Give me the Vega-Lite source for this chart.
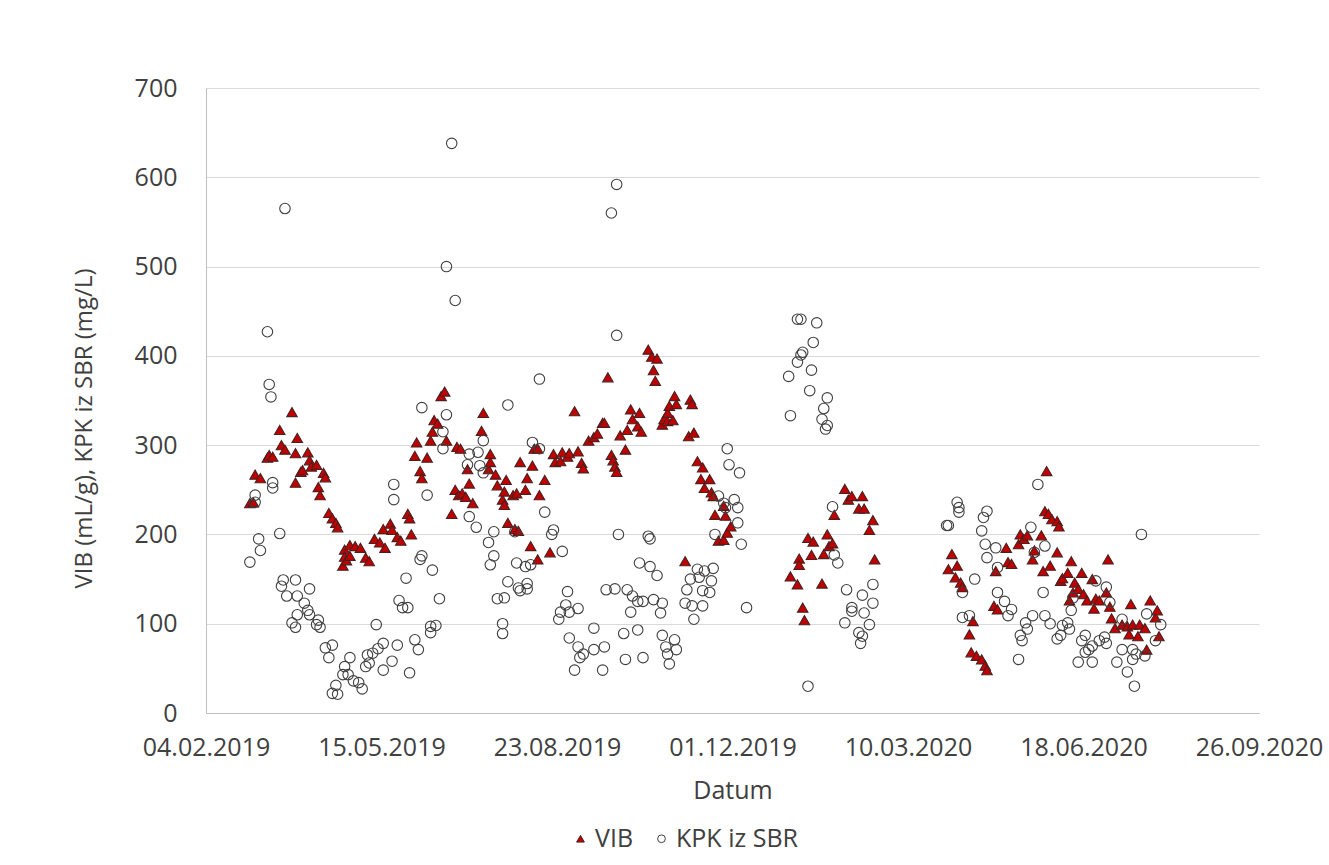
{
  "$schema": "https://vega.github.io/schema/vega-lite/v6.json",
  "width": 1053,
  "height": 625,
  "autosize": {"type": "none"},
  "padding": {"left": 206, "top": 88, "right": 70, "bottom": 152},
  "background": "white",
  "config": {
    "view": {"stroke": null},
    "font": "Open Sans",
    "legend": {
      "orient": "none",
      "legendX": 362,
      "legendY": 738,
      "direction": "horizontal",
      "labelFont": "Open Sans",
      "labelFontSize": 25,
      "labelColor": "#404040",
      "symbolSize": 60,
      "symbolStrokeWidth": 1,
      "columnPadding": 15,
      "labelOffset": 2
    }
  },
  "data": {
    "values": [
      {"date": "2019-03-01", "series": "VIB", "value": 235},
      {"date": "2019-03-03", "series": "VIB", "value": 236},
      {"date": "2019-03-04", "series": "VIB", "value": 267},
      {"date": "2019-03-07", "series": "VIB", "value": 263},
      {"date": "2019-03-11", "series": "VIB", "value": 286},
      {"date": "2019-03-12", "series": "VIB", "value": 289},
      {"date": "2019-03-14", "series": "VIB", "value": 287},
      {"date": "2019-03-18", "series": "VIB", "value": 317},
      {"date": "2019-03-19", "series": "VIB", "value": 300},
      {"date": "2019-03-21", "series": "VIB", "value": 295},
      {"date": "2019-03-25", "series": "VIB", "value": 337},
      {"date": "2019-03-27", "series": "VIB", "value": 291},
      {"date": "2019-03-27", "series": "VIB", "value": 258},
      {"date": "2019-03-28", "series": "VIB", "value": 308},
      {"date": "2019-03-30", "series": "VIB", "value": 270},
      {"date": "2019-03-31", "series": "VIB", "value": 272},
      {"date": "2019-04-03", "series": "VIB", "value": 292},
      {"date": "2019-04-04", "series": "VIB", "value": 283},
      {"date": "2019-04-05", "series": "VIB", "value": 276},
      {"date": "2019-04-08", "series": "VIB", "value": 278},
      {"date": "2019-04-09", "series": "VIB", "value": 253},
      {"date": "2019-04-10", "series": "VIB", "value": 244},
      {"date": "2019-04-12", "series": "VIB", "value": 269},
      {"date": "2019-04-13", "series": "VIB", "value": 264},
      {"date": "2019-04-15", "series": "VIB", "value": 224},
      {"date": "2019-04-17", "series": "VIB", "value": 218},
      {"date": "2019-04-19", "series": "VIB", "value": 213},
      {"date": "2019-04-20", "series": "VIB", "value": 208},
      {"date": "2019-04-23", "series": "VIB", "value": 165},
      {"date": "2019-04-24", "series": "VIB", "value": 183},
      {"date": "2019-04-24", "series": "VIB", "value": 175},
      {"date": "2019-04-25", "series": "VIB", "value": 171},
      {"date": "2019-04-27", "series": "VIB", "value": 188},
      {"date": "2019-04-27", "series": "VIB", "value": 176},
      {"date": "2019-04-30", "series": "VIB", "value": 187},
      {"date": "2019-05-03", "series": "VIB", "value": 185},
      {"date": "2019-05-06", "series": "VIB", "value": 174},
      {"date": "2019-05-08", "series": "VIB", "value": 170},
      {"date": "2019-05-11", "series": "VIB", "value": 195},
      {"date": "2019-05-14", "series": "VIB", "value": 191},
      {"date": "2019-05-16", "series": "VIB", "value": 206},
      {"date": "2019-05-17", "series": "VIB", "value": 185},
      {"date": "2019-05-20", "series": "VIB", "value": 212},
      {"date": "2019-05-21", "series": "VIB", "value": 205},
      {"date": "2019-05-24", "series": "VIB", "value": 197},
      {"date": "2019-05-26", "series": "VIB", "value": 193},
      {"date": "2019-05-30", "series": "VIB", "value": 223},
      {"date": "2019-05-31", "series": "VIB", "value": 218},
      {"date": "2019-06-01", "series": "VIB", "value": 200},
      {"date": "2019-06-03", "series": "VIB", "value": 288},
      {"date": "2019-06-04", "series": "VIB", "value": 303},
      {"date": "2019-06-06", "series": "VIB", "value": 271},
      {"date": "2019-06-07", "series": "VIB", "value": 263},
      {"date": "2019-06-10", "series": "VIB", "value": 286},
      {"date": "2019-06-12", "series": "VIB", "value": 305},
      {"date": "2019-06-13", "series": "VIB", "value": 315},
      {"date": "2019-06-14", "series": "VIB", "value": 328},
      {"date": "2019-06-16", "series": "VIB", "value": 324},
      {"date": "2019-06-18", "series": "VIB", "value": 355},
      {"date": "2019-06-20", "series": "VIB", "value": 360},
      {"date": "2019-06-21", "series": "VIB", "value": 305},
      {"date": "2019-06-24", "series": "VIB", "value": 223},
      {"date": "2019-06-26", "series": "VIB", "value": 250},
      {"date": "2019-06-27", "series": "VIB", "value": 298},
      {"date": "2019-06-28", "series": "VIB", "value": 244},
      {"date": "2019-06-29", "series": "VIB", "value": 296},
      {"date": "2019-06-30", "series": "VIB", "value": 246},
      {"date": "2019-07-02", "series": "VIB", "value": 242},
      {"date": "2019-07-03", "series": "VIB", "value": 273},
      {"date": "2019-07-04", "series": "VIB", "value": 257},
      {"date": "2019-07-06", "series": "VIB", "value": 235},
      {"date": "2019-07-11", "series": "VIB", "value": 316},
      {"date": "2019-07-12", "series": "VIB", "value": 336},
      {"date": "2019-07-15", "series": "VIB", "value": 273},
      {"date": "2019-07-16", "series": "VIB", "value": 290},
      {"date": "2019-07-16", "series": "VIB", "value": 281},
      {"date": "2019-07-19", "series": "VIB", "value": 267},
      {"date": "2019-07-20", "series": "VIB", "value": 255},
      {"date": "2019-07-23", "series": "VIB", "value": 239},
      {"date": "2019-07-24", "series": "VIB", "value": 248},
      {"date": "2019-07-24", "series": "VIB", "value": 233},
      {"date": "2019-07-25", "series": "VIB", "value": 261},
      {"date": "2019-07-26", "series": "VIB", "value": 213},
      {"date": "2019-07-29", "series": "VIB", "value": 244},
      {"date": "2019-07-30", "series": "VIB", "value": 206},
      {"date": "2019-07-31", "series": "VIB", "value": 246},
      {"date": "2019-08-01", "series": "VIB", "value": 204},
      {"date": "2019-08-02", "series": "VIB", "value": 281},
      {"date": "2019-08-05", "series": "VIB", "value": 250},
      {"date": "2019-08-06", "series": "VIB", "value": 263},
      {"date": "2019-08-08", "series": "VIB", "value": 187},
      {"date": "2019-08-09", "series": "VIB", "value": 277},
      {"date": "2019-08-10", "series": "VIB", "value": 296},
      {"date": "2019-08-12", "series": "VIB", "value": 296},
      {"date": "2019-08-12", "series": "VIB", "value": 172},
      {"date": "2019-08-13", "series": "VIB", "value": 244},
      {"date": "2019-08-16", "series": "VIB", "value": 261},
      {"date": "2019-08-19", "series": "VIB", "value": 180},
      {"date": "2019-08-21", "series": "VIB", "value": 290},
      {"date": "2019-08-22", "series": "VIB", "value": 281},
      {"date": "2019-08-25", "series": "VIB", "value": 282},
      {"date": "2019-08-26", "series": "VIB", "value": 292},
      {"date": "2019-08-29", "series": "VIB", "value": 287},
      {"date": "2019-08-30", "series": "VIB", "value": 291},
      {"date": "2019-09-02", "series": "VIB", "value": 338},
      {"date": "2019-09-04", "series": "VIB", "value": 293},
      {"date": "2019-09-06", "series": "VIB", "value": 280},
      {"date": "2019-09-07", "series": "VIB", "value": 274},
      {"date": "2019-09-10", "series": "VIB", "value": 305},
      {"date": "2019-09-13", "series": "VIB", "value": 309},
      {"date": "2019-09-15", "series": "VIB", "value": 313},
      {"date": "2019-09-18", "series": "VIB", "value": 325},
      {"date": "2019-09-19", "series": "VIB", "value": 325},
      {"date": "2019-09-21", "series": "VIB", "value": 376},
      {"date": "2019-09-23", "series": "VIB", "value": 289},
      {"date": "2019-09-24", "series": "VIB", "value": 283},
      {"date": "2019-09-25", "series": "VIB", "value": 276},
      {"date": "2019-09-26", "series": "VIB", "value": 270},
      {"date": "2019-09-28", "series": "VIB", "value": 311},
      {"date": "2019-10-01", "series": "VIB", "value": 295},
      {"date": "2019-10-02", "series": "VIB", "value": 317},
      {"date": "2019-10-04", "series": "VIB", "value": 340},
      {"date": "2019-10-05", "series": "VIB", "value": 329},
      {"date": "2019-10-08", "series": "VIB", "value": 321},
      {"date": "2019-10-09", "series": "VIB", "value": 336},
      {"date": "2019-10-10", "series": "VIB", "value": 315},
      {"date": "2019-10-14", "series": "VIB", "value": 407},
      {"date": "2019-10-16", "series": "VIB", "value": 399},
      {"date": "2019-10-17", "series": "VIB", "value": 384},
      {"date": "2019-10-18", "series": "VIB", "value": 372},
      {"date": "2019-10-19", "series": "VIB", "value": 397},
      {"date": "2019-10-22", "series": "VIB", "value": 323},
      {"date": "2019-10-23", "series": "VIB", "value": 329},
      {"date": "2019-10-25", "series": "VIB", "value": 336},
      {"date": "2019-10-25", "series": "VIB", "value": 327},
      {"date": "2019-10-26", "series": "VIB", "value": 344},
      {"date": "2019-10-28", "series": "VIB", "value": 328},
      {"date": "2019-10-29", "series": "VIB", "value": 355},
      {"date": "2019-10-30", "series": "VIB", "value": 346},
      {"date": "2019-11-04", "series": "VIB", "value": 170},
      {"date": "2019-11-06", "series": "VIB", "value": 310},
      {"date": "2019-11-07", "series": "VIB", "value": 351},
      {"date": "2019-11-08", "series": "VIB", "value": 346},
      {"date": "2019-11-09", "series": "VIB", "value": 314},
      {"date": "2019-11-11", "series": "VIB", "value": 282},
      {"date": "2019-11-13", "series": "VIB", "value": 262},
      {"date": "2019-11-14", "series": "VIB", "value": 275},
      {"date": "2019-11-15", "series": "VIB", "value": 252},
      {"date": "2019-11-18", "series": "VIB", "value": 262},
      {"date": "2019-11-19", "series": "VIB", "value": 247},
      {"date": "2019-11-20", "series": "VIB", "value": 243},
      {"date": "2019-11-21", "series": "VIB", "value": 222},
      {"date": "2019-11-23", "series": "VIB", "value": 193},
      {"date": "2019-11-26", "series": "VIB", "value": 232},
      {"date": "2019-11-26", "series": "VIB", "value": 194},
      {"date": "2019-11-27", "series": "VIB", "value": 221},
      {"date": "2019-11-28", "series": "VIB", "value": 202},
      {"date": "2019-11-30", "series": "VIB", "value": 209},
      {"date": "2020-01-03", "series": "VIB", "value": 153},
      {"date": "2020-01-07", "series": "VIB", "value": 144},
      {"date": "2020-01-08", "series": "VIB", "value": 173},
      {"date": "2020-01-08", "series": "VIB", "value": 166},
      {"date": "2020-01-10", "series": "VIB", "value": 118},
      {"date": "2020-01-11", "series": "VIB", "value": 104},
      {"date": "2020-01-13", "series": "VIB", "value": 196},
      {"date": "2020-01-15", "series": "VIB", "value": 177},
      {"date": "2020-01-16", "series": "VIB", "value": 192},
      {"date": "2020-01-21", "series": "VIB", "value": 145},
      {"date": "2020-01-22", "series": "VIB", "value": 178},
      {"date": "2020-01-24", "series": "VIB", "value": 200},
      {"date": "2020-01-25", "series": "VIB", "value": 187},
      {"date": "2020-01-27", "series": "VIB", "value": 190},
      {"date": "2020-01-28", "series": "VIB", "value": 222},
      {"date": "2020-02-03", "series": "VIB", "value": 251},
      {"date": "2020-02-05", "series": "VIB", "value": 239},
      {"date": "2020-02-07", "series": "VIB", "value": 243},
      {"date": "2020-02-11", "series": "VIB", "value": 229},
      {"date": "2020-02-13", "series": "VIB", "value": 243},
      {"date": "2020-02-14", "series": "VIB", "value": 229},
      {"date": "2020-02-17", "series": "VIB", "value": 205},
      {"date": "2020-02-19", "series": "VIB", "value": 216},
      {"date": "2020-02-20", "series": "VIB", "value": 172},
      {"date": "2020-04-02", "series": "VIB", "value": 161},
      {"date": "2020-04-04", "series": "VIB", "value": 178},
      {"date": "2020-04-06", "series": "VIB", "value": 152},
      {"date": "2020-04-07", "series": "VIB", "value": 165},
      {"date": "2020-04-09", "series": "VIB", "value": 146},
      {"date": "2020-04-10", "series": "VIB", "value": 141},
      {"date": "2020-04-14", "series": "VIB", "value": 88},
      {"date": "2020-04-15", "series": "VIB", "value": 68},
      {"date": "2020-04-16", "series": "VIB", "value": 103},
      {"date": "2020-04-18", "series": "VIB", "value": 64},
      {"date": "2020-04-21", "series": "VIB", "value": 60},
      {"date": "2020-04-23", "series": "VIB", "value": 53},
      {"date": "2020-04-24", "series": "VIB", "value": 48},
      {"date": "2020-04-28", "series": "VIB", "value": 120},
      {"date": "2020-04-29", "series": "VIB", "value": 159},
      {"date": "2020-04-30", "series": "VIB", "value": 116},
      {"date": "2020-05-05", "series": "VIB", "value": 185},
      {"date": "2020-05-06", "series": "VIB", "value": 169},
      {"date": "2020-05-08", "series": "VIB", "value": 167},
      {"date": "2020-05-12", "series": "VIB", "value": 189},
      {"date": "2020-05-13", "series": "VIB", "value": 200},
      {"date": "2020-05-15", "series": "VIB", "value": 195},
      {"date": "2020-05-17", "series": "VIB", "value": 199},
      {"date": "2020-05-20", "series": "VIB", "value": 172},
      {"date": "2020-05-21", "series": "VIB", "value": 182},
      {"date": "2020-05-25", "series": "VIB", "value": 199},
      {"date": "2020-05-26", "series": "VIB", "value": 159},
      {"date": "2020-05-27", "series": "VIB", "value": 226},
      {"date": "2020-05-28", "series": "VIB", "value": 271},
      {"date": "2020-05-29", "series": "VIB", "value": 223},
      {"date": "2020-05-30", "series": "VIB", "value": 165},
      {"date": "2020-05-31", "series": "VIB", "value": 217},
      {"date": "2020-06-03", "series": "VIB", "value": 215},
      {"date": "2020-06-03", "series": "VIB", "value": 180},
      {"date": "2020-06-04", "series": "VIB", "value": 209},
      {"date": "2020-06-05", "series": "VIB", "value": 148},
      {"date": "2020-06-06", "series": "VIB", "value": 151},
      {"date": "2020-06-09", "series": "VIB", "value": 157},
      {"date": "2020-06-10", "series": "VIB", "value": 126},
      {"date": "2020-06-11", "series": "VIB", "value": 170},
      {"date": "2020-06-12", "series": "VIB", "value": 135},
      {"date": "2020-06-13", "series": "VIB", "value": 146},
      {"date": "2020-06-15", "series": "VIB", "value": 139},
      {"date": "2020-06-17", "series": "VIB", "value": 157},
      {"date": "2020-06-18", "series": "VIB", "value": 133},
      {"date": "2020-06-20", "series": "VIB", "value": 126},
      {"date": "2020-06-23", "series": "VIB", "value": 150},
      {"date": "2020-06-24", "series": "VIB", "value": 117},
      {"date": "2020-06-25", "series": "VIB", "value": 128},
      {"date": "2020-06-27", "series": "VIB", "value": 126},
      {"date": "2020-07-01", "series": "VIB", "value": 135},
      {"date": "2020-07-02", "series": "VIB", "value": 172},
      {"date": "2020-07-03", "series": "VIB", "value": 119},
      {"date": "2020-07-04", "series": "VIB", "value": 106},
      {"date": "2020-07-06", "series": "VIB", "value": 95},
      {"date": "2020-07-10", "series": "VIB", "value": 99},
      {"date": "2020-07-13", "series": "VIB", "value": 97},
      {"date": "2020-07-14", "series": "VIB", "value": 88},
      {"date": "2020-07-15", "series": "VIB", "value": 122},
      {"date": "2020-07-16", "series": "VIB", "value": 99},
      {"date": "2020-07-19", "series": "VIB", "value": 86},
      {"date": "2020-07-20", "series": "VIB", "value": 99},
      {"date": "2020-07-23", "series": "VIB", "value": 95},
      {"date": "2020-07-24", "series": "VIB", "value": 71},
      {"date": "2020-07-26", "series": "VIB", "value": 126},
      {"date": "2020-07-29", "series": "VIB", "value": 107},
      {"date": "2020-07-30", "series": "VIB", "value": 115},
      {"date": "2020-07-31", "series": "VIB", "value": 86},

      {"date": "2019-03-01", "series": "KPK iz SBR", "value": 169},
      {"date": "2019-03-04", "series": "KPK iz SBR", "value": 244},
      {"date": "2019-03-04", "series": "KPK iz SBR", "value": 236},
      {"date": "2019-03-06", "series": "KPK iz SBR", "value": 195},
      {"date": "2019-03-07", "series": "KPK iz SBR", "value": 182},
      {"date": "2019-03-11", "series": "KPK iz SBR", "value": 427},
      {"date": "2019-03-12", "series": "KPK iz SBR", "value": 368},
      {"date": "2019-03-13", "series": "KPK iz SBR", "value": 354},
      {"date": "2019-03-14", "series": "KPK iz SBR", "value": 258},
      {"date": "2019-03-14", "series": "KPK iz SBR", "value": 252},
      {"date": "2019-03-18", "series": "KPK iz SBR", "value": 201},
      {"date": "2019-03-19", "series": "KPK iz SBR", "value": 142},
      {"date": "2019-03-20", "series": "KPK iz SBR", "value": 149},
      {"date": "2019-03-21", "series": "KPK iz SBR", "value": 565},
      {"date": "2019-03-22", "series": "KPK iz SBR", "value": 131},
      {"date": "2019-03-25", "series": "KPK iz SBR", "value": 101},
      {"date": "2019-03-27", "series": "KPK iz SBR", "value": 149},
      {"date": "2019-03-27", "series": "KPK iz SBR", "value": 96},
      {"date": "2019-03-28", "series": "KPK iz SBR", "value": 131},
      {"date": "2019-03-28", "series": "KPK iz SBR", "value": 110},
      {"date": "2019-04-01", "series": "KPK iz SBR", "value": 123},
      {"date": "2019-04-03", "series": "KPK iz SBR", "value": 115},
      {"date": "2019-04-04", "series": "KPK iz SBR", "value": 139},
      {"date": "2019-04-04", "series": "KPK iz SBR", "value": 110},
      {"date": "2019-04-08", "series": "KPK iz SBR", "value": 99},
      {"date": "2019-04-09", "series": "KPK iz SBR", "value": 104},
      {"date": "2019-04-10", "series": "KPK iz SBR", "value": 96},
      {"date": "2019-04-13", "series": "KPK iz SBR", "value": 73},
      {"date": "2019-04-15", "series": "KPK iz SBR", "value": 62},
      {"date": "2019-04-17", "series": "KPK iz SBR", "value": 76},
      {"date": "2019-04-17", "series": "KPK iz SBR", "value": 22},
      {"date": "2019-04-19", "series": "KPK iz SBR", "value": 31},
      {"date": "2019-04-20", "series": "KPK iz SBR", "value": 21},
      {"date": "2019-04-23", "series": "KPK iz SBR", "value": 43},
      {"date": "2019-04-24", "series": "KPK iz SBR", "value": 52},
      {"date": "2019-04-26", "series": "KPK iz SBR", "value": 43},
      {"date": "2019-04-27", "series": "KPK iz SBR", "value": 62},
      {"date": "2019-04-29", "series": "KPK iz SBR", "value": 36},
      {"date": "2019-05-02", "series": "KPK iz SBR", "value": 34},
      {"date": "2019-05-04", "series": "KPK iz SBR", "value": 27},
      {"date": "2019-05-06", "series": "KPK iz SBR", "value": 52},
      {"date": "2019-05-07", "series": "KPK iz SBR", "value": 65},
      {"date": "2019-05-08", "series": "KPK iz SBR", "value": 56},
      {"date": "2019-05-10", "series": "KPK iz SBR", "value": 67},
      {"date": "2019-05-12", "series": "KPK iz SBR", "value": 99},
      {"date": "2019-05-13", "series": "KPK iz SBR", "value": 72},
      {"date": "2019-05-16", "series": "KPK iz SBR", "value": 78},
      {"date": "2019-05-16", "series": "KPK iz SBR", "value": 48},
      {"date": "2019-05-21", "series": "KPK iz SBR", "value": 58},
      {"date": "2019-05-22", "series": "KPK iz SBR", "value": 256},
      {"date": "2019-05-22", "series": "KPK iz SBR", "value": 239},
      {"date": "2019-05-24", "series": "KPK iz SBR", "value": 76},
      {"date": "2019-05-25", "series": "KPK iz SBR", "value": 126},
      {"date": "2019-05-27", "series": "KPK iz SBR", "value": 118},
      {"date": "2019-05-29", "series": "KPK iz SBR", "value": 151},
      {"date": "2019-05-30", "series": "KPK iz SBR", "value": 118},
      {"date": "2019-05-31", "series": "KPK iz SBR", "value": 45},
      {"date": "2019-06-03", "series": "KPK iz SBR", "value": 82},
      {"date": "2019-06-05", "series": "KPK iz SBR", "value": 71},
      {"date": "2019-06-06", "series": "KPK iz SBR", "value": 172},
      {"date": "2019-06-07", "series": "KPK iz SBR", "value": 176},
      {"date": "2019-06-07", "series": "KPK iz SBR", "value": 342},
      {"date": "2019-06-10", "series": "KPK iz SBR", "value": 244},
      {"date": "2019-06-12", "series": "KPK iz SBR", "value": 97},
      {"date": "2019-06-12", "series": "KPK iz SBR", "value": 90},
      {"date": "2019-06-13", "series": "KPK iz SBR", "value": 160},
      {"date": "2019-06-15", "series": "KPK iz SBR", "value": 98},
      {"date": "2019-06-17", "series": "KPK iz SBR", "value": 128},
      {"date": "2019-06-19", "series": "KPK iz SBR", "value": 315},
      {"date": "2019-06-19", "series": "KPK iz SBR", "value": 296},
      {"date": "2019-06-21", "series": "KPK iz SBR", "value": 500},
      {"date": "2019-06-21", "series": "KPK iz SBR", "value": 334},
      {"date": "2019-06-24", "series": "KPK iz SBR", "value": 638},
      {"date": "2019-06-26", "series": "KPK iz SBR", "value": 462},
      {"date": "2019-07-03", "series": "KPK iz SBR", "value": 278},
      {"date": "2019-07-04", "series": "KPK iz SBR", "value": 290},
      {"date": "2019-07-04", "series": "KPK iz SBR", "value": 220},
      {"date": "2019-07-08", "series": "KPK iz SBR", "value": 208},
      {"date": "2019-07-09", "series": "KPK iz SBR", "value": 292},
      {"date": "2019-07-10", "series": "KPK iz SBR", "value": 277},
      {"date": "2019-07-12", "series": "KPK iz SBR", "value": 305},
      {"date": "2019-07-12", "series": "KPK iz SBR", "value": 269},
      {"date": "2019-07-15", "series": "KPK iz SBR", "value": 191},
      {"date": "2019-07-16", "series": "KPK iz SBR", "value": 166},
      {"date": "2019-07-18", "series": "KPK iz SBR", "value": 203},
      {"date": "2019-07-18", "series": "KPK iz SBR", "value": 176},
      {"date": "2019-07-20", "series": "KPK iz SBR", "value": 128},
      {"date": "2019-07-23", "series": "KPK iz SBR", "value": 100},
      {"date": "2019-07-23", "series": "KPK iz SBR", "value": 89},
      {"date": "2019-07-24", "series": "KPK iz SBR", "value": 129},
      {"date": "2019-07-26", "series": "KPK iz SBR", "value": 147},
      {"date": "2019-07-26", "series": "KPK iz SBR", "value": 345},
      {"date": "2019-07-30", "series": "KPK iz SBR", "value": 203},
      {"date": "2019-07-31", "series": "KPK iz SBR", "value": 168},
      {"date": "2019-08-01", "series": "KPK iz SBR", "value": 140},
      {"date": "2019-08-02", "series": "KPK iz SBR", "value": 137},
      {"date": "2019-08-05", "series": "KPK iz SBR", "value": 164},
      {"date": "2019-08-06", "series": "KPK iz SBR", "value": 139},
      {"date": "2019-08-06", "series": "KPK iz SBR", "value": 145},
      {"date": "2019-08-08", "series": "KPK iz SBR", "value": 166},
      {"date": "2019-08-09", "series": "KPK iz SBR", "value": 303},
      {"date": "2019-08-13", "series": "KPK iz SBR", "value": 374},
      {"date": "2019-08-13", "series": "KPK iz SBR", "value": 296},
      {"date": "2019-08-16", "series": "KPK iz SBR", "value": 225},
      {"date": "2019-08-20", "series": "KPK iz SBR", "value": 200},
      {"date": "2019-08-21", "series": "KPK iz SBR", "value": 205},
      {"date": "2019-08-24", "series": "KPK iz SBR", "value": 105},
      {"date": "2019-08-25", "series": "KPK iz SBR", "value": 113},
      {"date": "2019-08-26", "series": "KPK iz SBR", "value": 181},
      {"date": "2019-08-28", "series": "KPK iz SBR", "value": 121},
      {"date": "2019-08-29", "series": "KPK iz SBR", "value": 136},
      {"date": "2019-08-30", "series": "KPK iz SBR", "value": 113},
      {"date": "2019-08-30", "series": "KPK iz SBR", "value": 84},
      {"date": "2019-09-02", "series": "KPK iz SBR", "value": 48},
      {"date": "2019-09-04", "series": "KPK iz SBR", "value": 117},
      {"date": "2019-09-04", "series": "KPK iz SBR", "value": 74},
      {"date": "2019-09-05", "series": "KPK iz SBR", "value": 62},
      {"date": "2019-09-07", "series": "KPK iz SBR", "value": 66},
      {"date": "2019-09-13", "series": "KPK iz SBR", "value": 95},
      {"date": "2019-09-13", "series": "KPK iz SBR", "value": 71},
      {"date": "2019-09-18", "series": "KPK iz SBR", "value": 48},
      {"date": "2019-09-19", "series": "KPK iz SBR", "value": 74},
      {"date": "2019-09-20", "series": "KPK iz SBR", "value": 138},
      {"date": "2019-09-23", "series": "KPK iz SBR", "value": 560},
      {"date": "2019-09-25", "series": "KPK iz SBR", "value": 139},
      {"date": "2019-09-26", "series": "KPK iz SBR", "value": 592},
      {"date": "2019-09-26", "series": "KPK iz SBR", "value": 423},
      {"date": "2019-09-27", "series": "KPK iz SBR", "value": 200},
      {"date": "2019-09-30", "series": "KPK iz SBR", "value": 89},
      {"date": "2019-10-01", "series": "KPK iz SBR", "value": 60},
      {"date": "2019-10-02", "series": "KPK iz SBR", "value": 138},
      {"date": "2019-10-04", "series": "KPK iz SBR", "value": 113},
      {"date": "2019-10-05", "series": "KPK iz SBR", "value": 131},
      {"date": "2019-10-08", "series": "KPK iz SBR", "value": 125},
      {"date": "2019-10-08", "series": "KPK iz SBR", "value": 93},
      {"date": "2019-10-09", "series": "KPK iz SBR", "value": 168},
      {"date": "2019-10-11", "series": "KPK iz SBR", "value": 125},
      {"date": "2019-10-11", "series": "KPK iz SBR", "value": 62},
      {"date": "2019-10-14", "series": "KPK iz SBR", "value": 198},
      {"date": "2019-10-15", "series": "KPK iz SBR", "value": 195},
      {"date": "2019-10-15", "series": "KPK iz SBR", "value": 164},
      {"date": "2019-10-17", "series": "KPK iz SBR", "value": 127},
      {"date": "2019-10-19", "series": "KPK iz SBR", "value": 154},
      {"date": "2019-10-21", "series": "KPK iz SBR", "value": 112},
      {"date": "2019-10-22", "series": "KPK iz SBR", "value": 123},
      {"date": "2019-10-22", "series": "KPK iz SBR", "value": 87},
      {"date": "2019-10-24", "series": "KPK iz SBR", "value": 74},
      {"date": "2019-10-25", "series": "KPK iz SBR", "value": 66},
      {"date": "2019-10-26", "series": "KPK iz SBR", "value": 55},
      {"date": "2019-10-29", "series": "KPK iz SBR", "value": 82},
      {"date": "2019-10-30", "series": "KPK iz SBR", "value": 71},
      {"date": "2019-11-04", "series": "KPK iz SBR", "value": 123},
      {"date": "2019-11-05", "series": "KPK iz SBR", "value": 138},
      {"date": "2019-11-07", "series": "KPK iz SBR", "value": 150},
      {"date": "2019-11-08", "series": "KPK iz SBR", "value": 120},
      {"date": "2019-11-09", "series": "KPK iz SBR", "value": 105},
      {"date": "2019-11-11", "series": "KPK iz SBR", "value": 161},
      {"date": "2019-11-12", "series": "KPK iz SBR", "value": 152},
      {"date": "2019-11-14", "series": "KPK iz SBR", "value": 137},
      {"date": "2019-11-14", "series": "KPK iz SBR", "value": 120},
      {"date": "2019-11-15", "series": "KPK iz SBR", "value": 159},
      {"date": "2019-11-18", "series": "KPK iz SBR", "value": 135},
      {"date": "2019-11-19", "series": "KPK iz SBR", "value": 148},
      {"date": "2019-11-20", "series": "KPK iz SBR", "value": 162},
      {"date": "2019-11-21", "series": "KPK iz SBR", "value": 200},
      {"date": "2019-11-23", "series": "KPK iz SBR", "value": 243},
      {"date": "2019-11-26", "series": "KPK iz SBR", "value": 235},
      {"date": "2019-11-27", "series": "KPK iz SBR", "value": 230},
      {"date": "2019-11-28", "series": "KPK iz SBR", "value": 296},
      {"date": "2019-11-29", "series": "KPK iz SBR", "value": 278},
      {"date": "2019-12-02", "series": "KPK iz SBR", "value": 239},
      {"date": "2019-12-04", "series": "KPK iz SBR", "value": 230},
      {"date": "2019-12-04", "series": "KPK iz SBR", "value": 213},
      {"date": "2019-12-05", "series": "KPK iz SBR", "value": 269},
      {"date": "2019-12-06", "series": "KPK iz SBR", "value": 189},
      {"date": "2019-12-09", "series": "KPK iz SBR", "value": 118},
      {"date": "2020-01-02", "series": "KPK iz SBR", "value": 377},
      {"date": "2020-01-03", "series": "KPK iz SBR", "value": 333},
      {"date": "2020-01-07", "series": "KPK iz SBR", "value": 393},
      {"date": "2020-01-07", "series": "KPK iz SBR", "value": 441},
      {"date": "2020-01-09", "series": "KPK iz SBR", "value": 401},
      {"date": "2020-01-09", "series": "KPK iz SBR", "value": 441},
      {"date": "2020-01-10", "series": "KPK iz SBR", "value": 404},
      {"date": "2020-01-13", "series": "KPK iz SBR", "value": 30},
      {"date": "2020-01-14", "series": "KPK iz SBR", "value": 361},
      {"date": "2020-01-15", "series": "KPK iz SBR", "value": 384},
      {"date": "2020-01-16", "series": "KPK iz SBR", "value": 415},
      {"date": "2020-01-18", "series": "KPK iz SBR", "value": 437},
      {"date": "2020-01-21", "series": "KPK iz SBR", "value": 329},
      {"date": "2020-01-22", "series": "KPK iz SBR", "value": 341},
      {"date": "2020-01-23", "series": "KPK iz SBR", "value": 318},
      {"date": "2020-01-24", "series": "KPK iz SBR", "value": 353},
      {"date": "2020-01-24", "series": "KPK iz SBR", "value": 322},
      {"date": "2020-01-27", "series": "KPK iz SBR", "value": 231},
      {"date": "2020-01-28", "series": "KPK iz SBR", "value": 177},
      {"date": "2020-01-30", "series": "KPK iz SBR", "value": 168},
      {"date": "2020-02-03", "series": "KPK iz SBR", "value": 101},
      {"date": "2020-02-04", "series": "KPK iz SBR", "value": 138},
      {"date": "2020-02-07", "series": "KPK iz SBR", "value": 118},
      {"date": "2020-02-07", "series": "KPK iz SBR", "value": 114},
      {"date": "2020-02-11", "series": "KPK iz SBR", "value": 90},
      {"date": "2020-02-12", "series": "KPK iz SBR", "value": 78},
      {"date": "2020-02-13", "series": "KPK iz SBR", "value": 86},
      {"date": "2020-02-13", "series": "KPK iz SBR", "value": 132},
      {"date": "2020-02-14", "series": "KPK iz SBR", "value": 112},
      {"date": "2020-02-17", "series": "KPK iz SBR", "value": 99},
      {"date": "2020-02-19", "series": "KPK iz SBR", "value": 123},
      {"date": "2020-02-19", "series": "KPK iz SBR", "value": 144},
      {"date": "2020-04-01", "series": "KPK iz SBR", "value": 210},
      {"date": "2020-04-02", "series": "KPK iz SBR", "value": 210},
      {"date": "2020-04-07", "series": "KPK iz SBR", "value": 236},
      {"date": "2020-04-08", "series": "KPK iz SBR", "value": 230},
      {"date": "2020-04-08", "series": "KPK iz SBR", "value": 225},
      {"date": "2020-04-10", "series": "KPK iz SBR", "value": 135},
      {"date": "2020-04-10", "series": "KPK iz SBR", "value": 107},
      {"date": "2020-04-14", "series": "KPK iz SBR", "value": 109},
      {"date": "2020-04-17", "series": "KPK iz SBR", "value": 150},
      {"date": "2020-04-21", "series": "KPK iz SBR", "value": 204},
      {"date": "2020-04-22", "series": "KPK iz SBR", "value": 219},
      {"date": "2020-04-23", "series": "KPK iz SBR", "value": 189},
      {"date": "2020-04-24", "series": "KPK iz SBR", "value": 226},
      {"date": "2020-04-24", "series": "KPK iz SBR", "value": 174},
      {"date": "2020-04-29", "series": "KPK iz SBR", "value": 185},
      {"date": "2020-04-30", "series": "KPK iz SBR", "value": 163},
      {"date": "2020-04-30", "series": "KPK iz SBR", "value": 135},
      {"date": "2020-05-04", "series": "KPK iz SBR", "value": 125},
      {"date": "2020-05-06", "series": "KPK iz SBR", "value": 109},
      {"date": "2020-05-08", "series": "KPK iz SBR", "value": 116},
      {"date": "2020-05-12", "series": "KPK iz SBR", "value": 60},
      {"date": "2020-05-13", "series": "KPK iz SBR", "value": 87},
      {"date": "2020-05-14", "series": "KPK iz SBR", "value": 81},
      {"date": "2020-05-16", "series": "KPK iz SBR", "value": 101},
      {"date": "2020-05-17", "series": "KPK iz SBR", "value": 94},
      {"date": "2020-05-19", "series": "KPK iz SBR", "value": 208},
      {"date": "2020-05-20", "series": "KPK iz SBR", "value": 109},
      {"date": "2020-05-21", "series": "KPK iz SBR", "value": 180},
      {"date": "2020-05-23", "series": "KPK iz SBR", "value": 256},
      {"date": "2020-05-26", "series": "KPK iz SBR", "value": 135},
      {"date": "2020-05-27", "series": "KPK iz SBR", "value": 109},
      {"date": "2020-05-27", "series": "KPK iz SBR", "value": 187},
      {"date": "2020-05-30", "series": "KPK iz SBR", "value": 100},
      {"date": "2020-06-03", "series": "KPK iz SBR", "value": 83},
      {"date": "2020-06-05", "series": "KPK iz SBR", "value": 87},
      {"date": "2020-06-06", "series": "KPK iz SBR", "value": 98},
      {"date": "2020-06-09", "series": "KPK iz SBR", "value": 101},
      {"date": "2020-06-10", "series": "KPK iz SBR", "value": 94},
      {"date": "2020-06-11", "series": "KPK iz SBR", "value": 115},
      {"date": "2020-06-12", "series": "KPK iz SBR", "value": 129},
      {"date": "2020-06-15", "series": "KPK iz SBR", "value": 57},
      {"date": "2020-06-17", "series": "KPK iz SBR", "value": 81},
      {"date": "2020-06-19", "series": "KPK iz SBR", "value": 87},
      {"date": "2020-06-19", "series": "KPK iz SBR", "value": 68},
      {"date": "2020-06-21", "series": "KPK iz SBR", "value": 71},
      {"date": "2020-06-23", "series": "KPK iz SBR", "value": 57},
      {"date": "2020-06-23", "series": "KPK iz SBR", "value": 75},
      {"date": "2020-06-25", "series": "KPK iz SBR", "value": 148},
      {"date": "2020-06-27", "series": "KPK iz SBR", "value": 81},
      {"date": "2020-06-30", "series": "KPK iz SBR", "value": 85},
      {"date": "2020-07-01", "series": "KPK iz SBR", "value": 141},
      {"date": "2020-07-01", "series": "KPK iz SBR", "value": 78},
      {"date": "2020-07-03", "series": "KPK iz SBR", "value": 124},
      {"date": "2020-07-07", "series": "KPK iz SBR", "value": 57},
      {"date": "2020-07-10", "series": "KPK iz SBR", "value": 105},
      {"date": "2020-07-10", "series": "KPK iz SBR", "value": 71},
      {"date": "2020-07-13", "series": "KPK iz SBR", "value": 46},
      {"date": "2020-07-16", "series": "KPK iz SBR", "value": 60},
      {"date": "2020-07-16", "series": "KPK iz SBR", "value": 71},
      {"date": "2020-07-17", "series": "KPK iz SBR", "value": 30},
      {"date": "2020-07-18", "series": "KPK iz SBR", "value": 66},
      {"date": "2020-07-21", "series": "KPK iz SBR", "value": 200},
      {"date": "2020-07-23", "series": "KPK iz SBR", "value": 64},
      {"date": "2020-07-24", "series": "KPK iz SBR", "value": 111},
      {"date": "2020-07-29", "series": "KPK iz SBR", "value": 81},
      {"date": "2020-08-01", "series": "KPK iz SBR", "value": 99}
    ]
  },
  "mark": {"type": "point", "size": 110, "strokeWidth": 1.1, "opacity": 1},
  "encoding": {
    "x": {
      "field": "date",
      "type": "temporal",
      "scale": {
        "type": "utc",
        "domain": [
          {"year": 2019, "month": 2, "date": 4, "utc": true},
          {"year": 2020, "month": 9, "date": 26, "utc": true}
        ]
      },
      "axis": {
        "values": [
          {"year": 2019, "month": 2, "date": 4, "utc": true},
          {"year": 2019, "month": 5, "date": 15, "utc": true},
          {"year": 2019, "month": 8, "date": 23, "utc": true},
          {"year": 2019, "month": 12, "date": 1, "utc": true},
          {"year": 2020, "month": 3, "date": 10, "utc": true},
          {"year": 2020, "month": 6, "date": 18, "utc": true},
          {"year": 2020, "month": 9, "date": 26, "utc": true}
        ],
        "format": "%d.%m.%Y",
        "title": "Datum",
        "grid": false,
        "ticks": false,
        "tickSize": 0,
        "domainColor": "#bfbfbf",
        "domainWidth": 1,
        "labelFont": "Open Sans",
        "labelFontSize": 25,
        "labelColor": "#404040",
        "labelPadding": 22,
        "labelFlush": false,
        "labelOverlap": false,
        "labelBound": false,
        "titleFont": "Open Sans",
        "titleFontSize": 25,
        "titleFontWeight": "normal",
        "titleColor": "#404040",
        "titleY": 77,
        "titleBaseline": "middle"
      }
    },
    "y": {
      "field": "value",
      "type": "quantitative",
      "scale": {"domain": [0, 700], "nice": false, "zero": true},
      "axis": {
        "values": [0, 100, 200, 300, 400, 500, 600, 700],
        "title": "VIB (mL/g), KPK iz SBR (mg/L)",
        "grid": true,
        "gridColor": "#d9d9d9",
        "gridWidth": 1,
        "ticks": false,
        "tickSize": 0,
        "domainColor": "#bfbfbf",
        "domainWidth": 1,
        "labelFont": "Open Sans",
        "labelFontSize": 25,
        "labelColor": "#404040",
        "labelPadding": 29,
        "titleFont": "Open Sans",
        "titleFontSize": 24,
        "titleFontWeight": "normal",
        "titleColor": "#404040",
        "titleAngle": 270,
        "titleX": -122,
        "titleY": 340,
        "titleAlign": "center",
        "titleBaseline": "middle"
      }
    },
    "shape": {
      "field": "series",
      "type": "nominal",
      "scale": {"domain": ["VIB", "KPK iz SBR"], "range": ["triangle-up", "circle"]},
      "legend": {"title": null}
    },
    "fill": {
      "field": "series",
      "type": "nominal",
      "scale": {"domain": ["VIB", "KPK iz SBR"], "range": ["#C00000", "transparent"]},
      "legend": {"title": null}
    },
    "stroke": {
      "field": "series",
      "type": "nominal",
      "scale": {"domain": ["VIB", "KPK iz SBR"], "range": ["#4a2020", "#404040"]},
      "legend": {"title": null}
    }
  }
}
